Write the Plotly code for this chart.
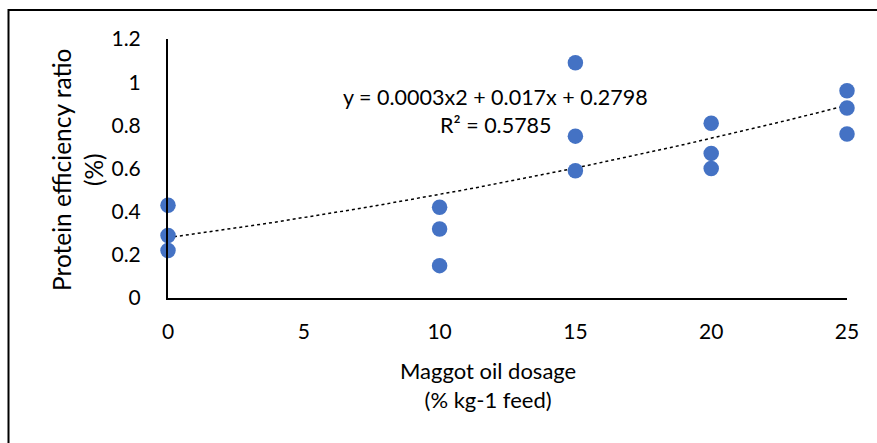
import plotly.graph_objects as go
import numpy as np

# Data
dosage = [0, 0, 0, 10, 10, 10, 15, 15, 15, 20, 20, 20, 25, 25, 25]
per = [0.43, 0.29, 0.22, 0.42, 0.32, 0.15, 1.09, 0.75, 0.59, 0.81, 0.67, 0.60, 0.96, 0.88, 0.76]
trend_coef = [0.0003, 0.017, 0.2798]  # a, b, c of y = a x^2 + b x + c
x_ticks = [0, 5, 10, 15, 20, 25]
y_ticks = [0, 0.2, 0.4, 0.6, 0.8, 1, 1.2]
y_tick_text = ["0", "0.2", "0.4", "0.6", "0.8", "1", "1.2"]
eq_text = "y = 0.0003x2 + 0.017x + 0.2798"
r2_text = "R² = 0.5785"

FONT = "Lato, Open Sans, sans-serif"

tx = np.linspace(min(dosage), max(dosage), 60)
ty = trend_coef[0] * tx**2 + trend_coef[1] * tx + trend_coef[2]

fig = go.Figure()
fig.add_trace(go.Scatter(x=tx, y=ty, mode="lines",
                         line=dict(color="black", width=1.5, dash="dot"),
                         hoverinfo="skip", showlegend=False, cliponaxis=False))
fig.add_trace(go.Scatter(x=dosage, y=per, mode="markers",
                         marker=dict(color="#4472C4", size=15.5),
                         showlegend=False, cliponaxis=False))

W, H = 877, 443
L, R, T, B = 168, 30, 39, 145
pw, ph = W - L - R, H - T - B

def px(x):
    return (x - L) / pw

def py(y):
    return (H - B - y) / ph

fig.update_layout(
    width=W, height=H,
    margin=dict(l=L, r=R, t=T, b=B, pad=0),
    paper_bgcolor="white", plot_bgcolor="white",
    font=dict(family=FONT, size=21, color="black"),
    xaxis=dict(range=[0, 25], tickvals=x_ticks, showgrid=False, zeroline=False,
               showline=True, linecolor="black", linewidth=2, ticks="",
               ticklabelstandoff=14, tickfont=dict(size=21)),
    yaxis=dict(range=[0, 1.2], tickvals=y_ticks, ticktext=y_tick_text,
               showgrid=False, zeroline=False,
               showline=True, linecolor="black", linewidth=2, ticks="",
               ticklabelstandoff=21, tickfont=dict(size=21)),
    shapes=[dict(type="rect", xref="paper", yref="paper",
                 x0=px(8.5), x1=px(900), y0=py(10), y1=py(460),
                 line=dict(color="black", width=2), fillcolor="rgba(0,0,0,0)",
                 layer="below")],
    annotations=[
        dict(text=eq_text, x=px(495.5), y=py(97), xref="paper", yref="paper",
             showarrow=False, xanchor="center", yanchor="middle", font=dict(size=21.5)),
        dict(text=r2_text, x=px(495.5), y=py(125), xref="paper", yref="paper",
             showarrow=False, xanchor="center", yanchor="middle", font=dict(size=21.5)),
        dict(text="Maggot oil dosage<br>(% kg-1 feed)", x=px(488), y=py(385),
             xref="paper", yref="paper", showarrow=False, xanchor="center",
             yanchor="middle", font=dict(size=22)),
        dict(text="Protein efficiency ratio<br>(%)", x=px(77), y=py(170),
             xref="paper", yref="paper", showarrow=False, textangle=-90,
             xanchor="center", yanchor="middle", font=dict(size=24.5)),
    ],
)

fig.write_html("out.html", config={"displayModeBar": False},
               post_script="document.body.style.margin='0';document.body.style.padding='0';")
